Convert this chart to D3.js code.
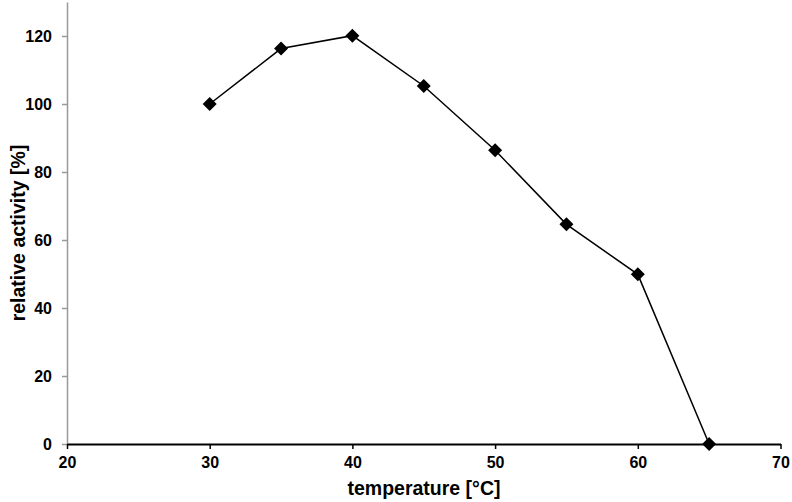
<!DOCTYPE html>
<html><head><meta charset="utf-8">
<script src="https://cdn.jsdelivr.net/npm/d3@7"></script>
<style>body{margin:0;background:#fff}svg{display:block}text{font-family:"Liberation Sans",Arial,sans-serif;font-weight:bold}</style>
</head><body>
<svg id="c" width="792" height="502"></svg>
<script>
const temperature = [30, 35, 40, 45, 50, 55, 60, 65];
const activity = [100, 116.3, 120.1, 105.3, 86.4, 64.6, 49.9, 0];
const xTicks = [20, 30, 40, 50, 60, 70];
const yTicks = [0, 20, 40, 60, 80, 100, 120];

const svg = d3.select("#c");
const x = d3.scaleLinear().domain([20, 70]).range([67, 780.5]);
const y = d3.scaleLinear().domain([0, 130]).range([444, 2]);

// y axis
const ya = svg.append("g").attr("transform", "translate(67,0)")
  .call(d3.axisLeft(y).tickValues(yTicks).tickSize(5).tickPadding(10).tickSizeOuter(0).tickFormat(d3.format("d")));
ya.select(".domain").attr("stroke", "#999").attr("stroke-width", 1.5);
ya.selectAll(".tick line").attr("stroke", "#999").attr("stroke-width", 1.5);
ya.selectAll("text").attr("font-size", 16).attr("fill", "#000");

// x axis
const xa = svg.append("g").attr("transform", "translate(0,444)")
  .call(d3.axisBottom(x).tickValues(xTicks).tickSize(5).tickPadding(8).tickSizeOuter(0));
xa.select(".domain").attr("stroke", "#000").attr("stroke-width", 2);
xa.selectAll(".tick line").attr("stroke", "#000").attr("stroke-width", 1.5);
xa.selectAll("text").attr("font-size", 16).attr("fill", "#000");

const pts = temperature.map((t, i) => [t, activity[i]]);
svg.append("path").datum(pts)
  .attr("fill", "none").attr("stroke", "#000").attr("stroke-width", 1.5)
  .attr("d", d3.line().x(d => x(d[0])).y(d => y(d[1])));

svg.selectAll(".m").data(pts).enter().append("path")
  .attr("d", d3.symbol(d3.symbolSquare, 98)())
  .attr("transform", d => `translate(${x(d[0])},${y(d[1])}) rotate(45)`)
  .attr("fill", "#000");

svg.append("text").attr("x", 424).attr("y", 495).attr("text-anchor", "middle")
  .attr("font-size", 19.5).text("temperature [°C]");
svg.append("text").attr("transform", "translate(25,233) rotate(-90)").attr("text-anchor", "middle")
  .attr("font-size", 19.5).text("relative activity [%]");
</script>
</body></html>
